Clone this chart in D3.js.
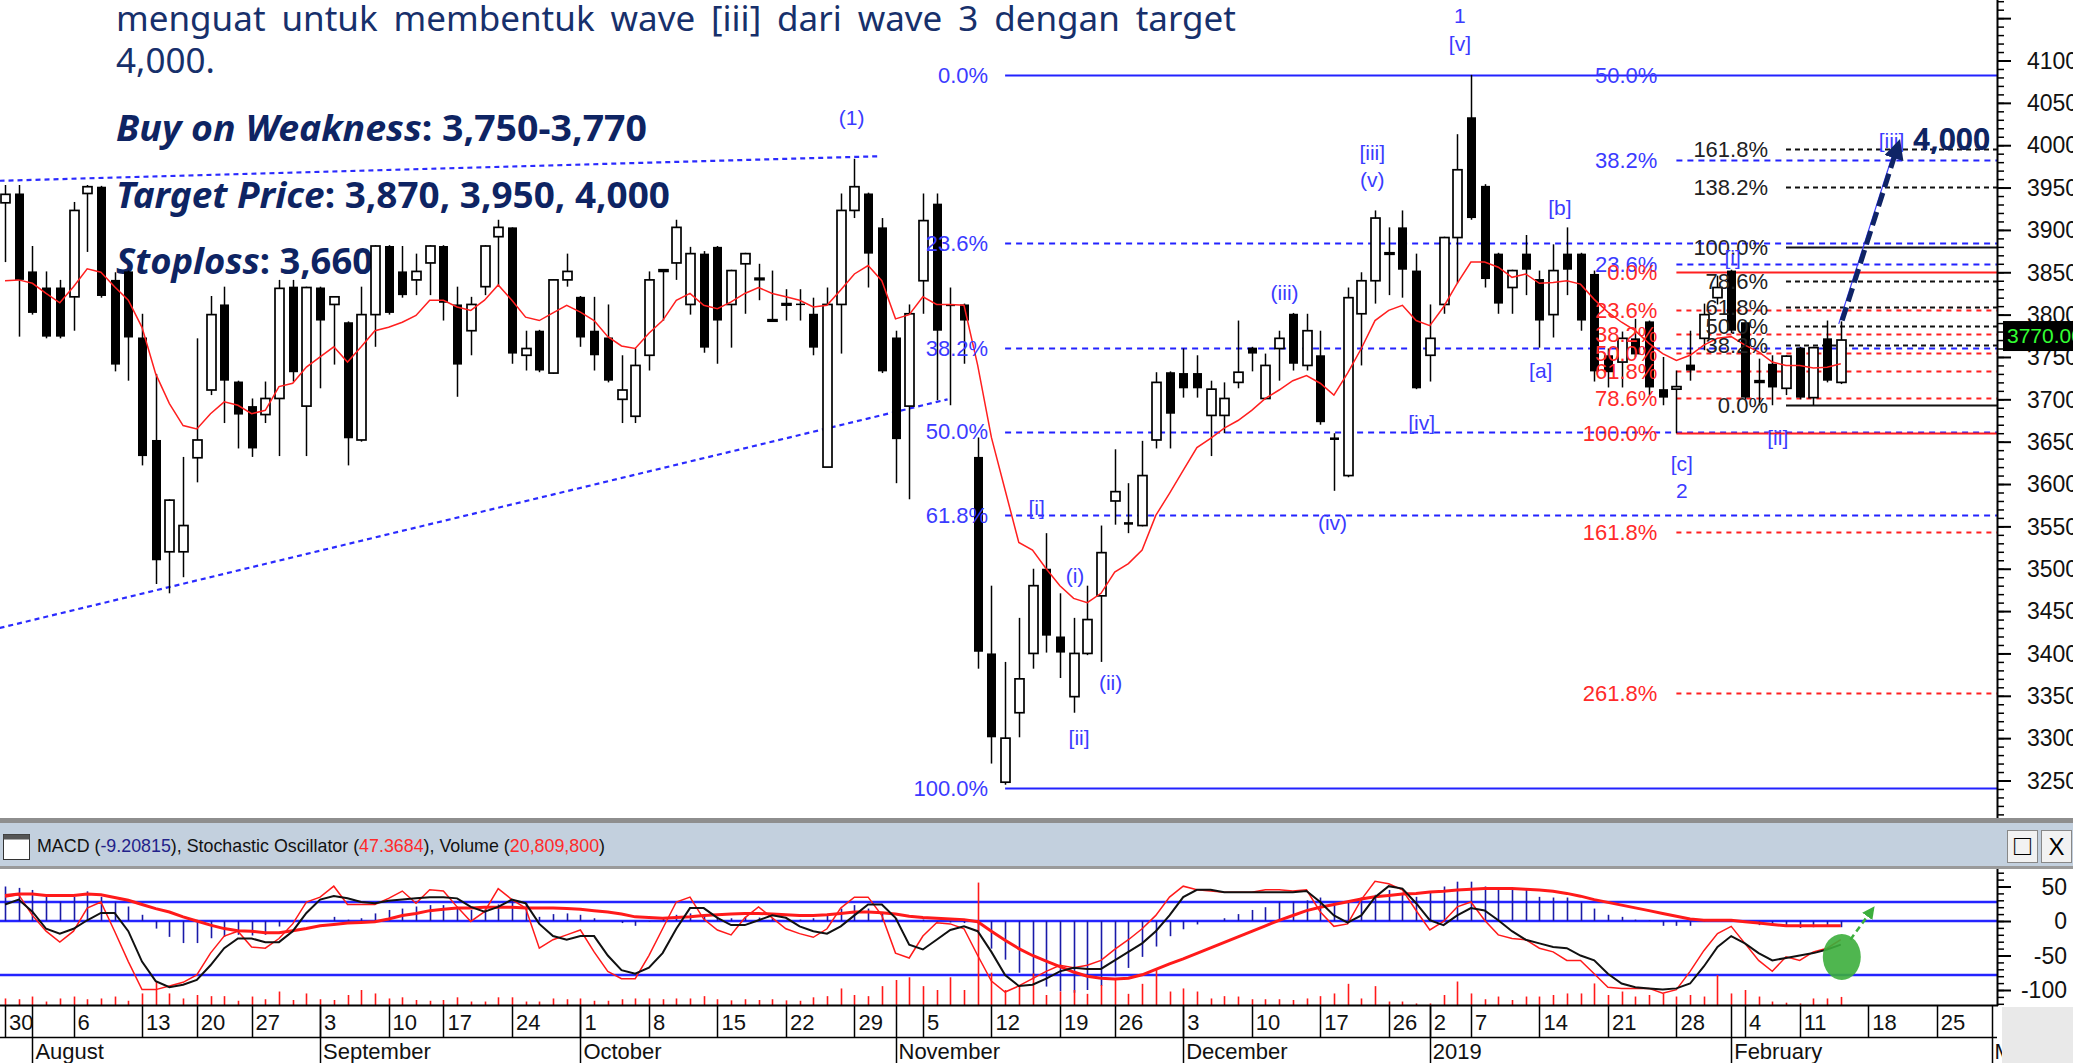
<!DOCTYPE html>
<html>
<head>
<meta charset="utf-8">
<script src="https://cdn.jsdelivr.net/npm/d3@7"></script>
<style>
  body { margin: 0; background: #fff; }
  svg { display: block; }
  .nar { font-family: "Liberation Sans Narrow", "Arial Narrow", "Liberation Sans", Arial, sans-serif; }
</style>
</head>
<body>
<svg id="chart" width="2073" height="1063"></svg>
<script>
// ---- calendar (IDX trading days) ----
const firstDay = "2018-07-30", lastDay = "2019-03-01";
const holidays = ["2018-08-17","2018-08-22","2018-09-11","2018-11-20","2018-12-24",
                  "2018-12-25","2018-12-31","2019-01-01","2019-02-05"];

// ---- daily candles, Jul 30 2018 .. Feb 14 2019 ----
const openP = [3932,3943,3851,3832,3832,3821,3943,3951,3841,3851, 3773,3652,3520,3520,3631,3711,3812,3721,3692,3682,
  3701,3833,3692,3832,3812,3791,3652,3800,3881,3851, 3841,3861,3881,3812,3781,3833,3892,3903,3752,3781,
  3731,3841,3821,3781,3773,3700,3680,3752,3851,3861, 3812,3872,3880,3812,3860,3842,3793,3812,3813,3801,
  3620,3812,3923,3943,3903,3773,3692,3840,3931,3812, 3812,3632,3400,3248,3330,3400,3500,3420,3349,3400,
  3468,3580,3555,3551,3652,3732,3731,3731,3681,3681, 3720,3761,3701,3760,3801,3740,3752,3655,3610,3801,
  3840,3872,3903,3852,3752,3812,3891,4033,3952,3872, 3832,3872,3842,3800,3872,3872,3848,3752,3744,3772,
  3792,3712,3712,3741,3772,3820,3852,3791,3720,3742, 3713,3761,3702,3772,3720];
const highP = [3953,3953,3881,3851,3841,3933,3953,3952,3850,3852, 3801,3730,3582,3632,3772,3822,3833,3722,3701,3721,
  3841,3841,3833,3833,3822,3792,3833,3882,3882,3881, 3872,3882,3882,3833,3821,3882,3912,3903,3781,3782,
  3842,3872,3822,3821,3812,3752,3760,3851,3853,3912, 3880,3875,3881,3853,3873,3860,3852,3830,3830,3820,
  3832,3943,3984,3944,3914,3781,3812,3943,3943,3832, 3813,3655,3480,3390,3442,3500,3542,3471,3442,3480,
  3551,3641,3601,3651,3732,3733,3760,3752,3722,3720, 3793,3762,3754,3781,3802,3801,3781,3660,3832,3850,
  3923,3903,3923,3872,3812,3892,4013,4083,3954,3873, 3853,3894,3852,3883,3903,3873,3852,3760,3780,3795,
  3793,3750,3734,3781,3813,3846,3853,3793,3748,3752, 3752,3762,3762,3793,3792];
const lowP = [3862,3774,3800,3772,3772,3781,3874,3820,3733,3722, 3622,3482,3471,3490,3602,3705,3672,3642,3632,3672,
  3633,3721,3633,3713,3741,3622,3650,3762,3800,3820, 3823,3823,3793,3703,3752,3823,3833,3742,3734,3732,
  3730,3833,3762,3734,3720,3672,3672,3734,3793,3841, 3800,3755,3742,3761,3801,3817,3793,3793,3793,3752,
  3620,3754,3914,3832,3731,3601,3582,3801,3699,3693, 3742,3382,3270,3245,3301,3382,3401,3371,3330,3398,
  3390,3552,3542,3550,3642,3642,3702,3702,3633,3660, 3713,3733,3700,3722,3734,3734,3670,3592,3608,3740,
  3813,3823,3820,3712,3721,3801,3837,3912,3832,3801, 3801,3823,3761,3773,3823,3781,3721,3714,3714,3750,
  3705,3693,3660,3722,3758,3812,3778,3700,3693,3693, 3705,3700,3693,3720,3718];
const closeP = [3942,3841,3802,3774,3774,3923,3951,3822,3741,3773, 3633,3510,3581,3551,3652,3800,3722,3682,3642,3701,
  3831,3732,3832,3793,3821,3654,3800,3881,3802,3823, 3851,3881,3814,3741,3812,3881,3903,3754,3760,3734,
  3841,3851,3773,3752,3722,3711,3740,3841,3853,3903, 3872,3761,3793,3852,3872,3843,3794,3813,3812,3761,
  3812,3923,3951,3872,3733,3653,3801,3911,3781,3810, 3793,3402,3301,3300,3370,3480,3421,3401,3400,3440,
  3519,3591,3552,3610,3720,3683,3713,3713,3712,3701, 3732,3754,3740,3772,3742,3781,3673,3652,3820,3840,
  3914,3873,3853,3713,3772,3891,3971,3914,3842,3813, 3852,3853,3793,3852,3853,3793,3733,3732,3772,3753,
  3714,3702,3715,3734,3800,3832,3781,3702,3722,3714, 3751,3702,3761,3722,3770];
const movingAvg = [3840,3841,3837,3825,3814,3833,3854,3850,3833,3817, 3785,3730,3695,3669,3665,3683,3697,3693,3683,3687,
  3715,3719,3738,3750,3762,3744,3762,3781,3785,3791, 3799,3817,3817,3809,3805,3817,3835,3817,3797,3793,
  3802,3811,3803,3793,3774,3763,3760,3778,3793,3817, 3825,3811,3807,3815,3825,3832,3825,3821,3817,3809,
  3811,3829,3848,3858,3840,3795,3800,3821,3812,3812, 3811,3740,3655,3593,3531,3522,3500,3480,3465,3460,
  3471,3496,3506,3522,3563,3589,3616,3643,3654,3666, 3675,3687,3701,3711,3722,3728,3719,3705,3731,3760,
  3793,3805,3811,3793,3787,3809,3837,3862,3862,3856, 3844,3848,3837,3838,3840,3836,3818,3803,3791,3781,
  3766,3754,3746,3752,3764,3772,3774,3764,3756,3744, 3740,3740,3737,3738,3742];

// ---- lower panel (volume in millions) ----
const volume = [17,15,22,9,17,22,15,17,22,11, 30,61,30,17,26,23,23,11,22,15, 35,13,30,15,13,26,39,30,17,20,
  13,11,13,20,9,9,20,20,9,9, 17,15,17,11,11,15,17,17,15,17, 17,23,15,12,15,13,15,12,11,20,
  23,43,26,23,49,65,72,49,39,72, 39,318,84,39,52,82,26,35,39,29, 52,65,29,55,93,35,43,35,17,23,
  22,15,15,15,13,17,23,30,55,17, 49,9,9,4,4,26,61,30,15,22, 13,22,22,26,30,30,56,26,35,22,
  26,30,22,26,22,78,30,39,22,9, 6,4,17,17,21];
const macd = [50,48,45,35,28,35,43,35,28,21, 9,-11,-23,-32,-32,-25,-23,-20,-21,-20, -8,0,-1,0,6,2,4,11,16,18,
  21,23,23,19,16,18,24,30,26,6, 10,11,9,4,0,-3,-7,-1,4,9, 11,9,6,4,6,5,4,0,2,4,
  9,18,23,18,11,4,0,2,-1,-2, -3,-15,-40,-56,-75,-85,-95,-102,-104,-100, -94,-80,-68,-52,-37,-22,-12,-5,0,4,
  10,16,20,28,28,30,34,26,27,34, 38,45,41,35,43,50,57,57,50,47, 45,45,35,34,34,28,18,9,6,2,
  1,-7,-7,-7,-1,1,1,-1,-6,-7, -8,-10,-9,-8,-9];
const macdSignal = [37,39,39,37,37,37,39,38,34,30, 24,18,13,6,0,-6,-11,-14,-15,-17, -17,-14,-11,-7,-5,-3,-2,-1,3,8,
  11,15,17,19,19,20,20,20,19,19, 19,18,17,15,13,10,6,5,4,5, 6,8,9,10,11,11,10,9,8,8,
  9,11,13,13,12,10,7,5,4,3, 2,-1,-15,-28,-40,-50,-58,-66,-74,-80, -83,-84,-83,-78,-70,-62,-55,-47,-39,-31,
  -23,-15,-7,1,8,15,20,24,28,32, 35,37,39,40,42,43,45,46,47,47, 47,46,45,43,40,36,31,27,23,19,
  15,11,7,3,1,1,1,-1,-3,-5, -7,-7,-7,-7,-7];
const stochK = [84,86,69,56,47,56,75,80,56,31, 8,8,11,14,20,38,52,56,43,42, 50,62,80,84,93,78,78,78,83,89,
  79,90,89,76,64,72,91,82,75,42, 49,53,57,39,23,17,17,36,58,80, 84,66,57,53,67,76,67,58,54,51,
  58,75,84,84,69,38,34,52,63,62, 58,36,15,6,11,17,23,28,26,28, 32,41,49,58,69,84,93,90,89,88,
  88,88,90,90,89,90,72,60,62,82, 97,95,90,73,57,64,76,80,65,53, 50,49,42,39,32,32,21,10,9,9,
  9,5,8,23,40,54,60,46,32,23, 35,32,39,42,49];
const stochD = [78,82,72,58,54,58,65,71,71,56, 31,15,10,12,16,28,42,50,50,47, 47,56,71,82,85,83,80,79,81,82,
  83,84,84,83,76,72,76,82,79,62, 52,49,52,52,36,24,21,26,38,58, 75,75,67,61,61,65,69,67,60,56,
  54,60,69,78,78,67,45,41,49,57, 60,56,39,20,11,12,17,23,26,25, 25,32,39,46,56,69,84,90,90,88,
  88,88,88,88,88,89,80,69,63,69, 84,93,91,79,65,61,69,75,73,65, 56,49,46,43,42,36,32,21,13,10,
  9,8,9,13,27,43,52,46,38,32, 34,36,38,41,45];
const headerValues = ["-9.20815", "47.3684", "20,809,800"];

// ---- axes ----
const priceTicks = [3250,3300,3350,3400,3450,3500,3550,3600,3650,3700,3750,3800,3850,3900,3950,4000,4050,4100];
const lowerTicks = [50, 0, -50, -100];

// ---- fibonacci levels: [label, price] ----
const fibBlueLeft = [["0.0%",4083],["23.6%",3884],["38.2%",3761],["50.0%",3662],["61.8%",3563],["100.0%",3241]];
const fibBlueRight = [["50.0%",4083],["38.2%",3983],["23.6%",3860]];
const fibRed = [["0.0%",3850],["23.6%",3805],["38.2%",3777],["50.0%",3755],["61.8%",3733],["78.6%",3701],
                ["100.0%",3660],["161.8%",3543],["261.8%",3353]];
const fibBlack = [["161.8%",3996],["138.2%",3951],["100.0%",3880],["78.6%",3840],["61.8%",3809],
                  ["50.0%",3787],["38.2%",3764],["0.0%",3693]];

// ---- elliott wave labels: [text, day index, price] ----
const waveLabels = [["1",106.2,4153],["[v]",106.2,4120],["(1)",61.8,4033],["[iii]",99.8,3992],["(v)",99.8,3959],
  ["(iii)",93.4,3826],["[b]",113.5,3927],["[a]",112.1,3734],["[iv]",103.4,3673],["(iv)",96.9,3555],
  ["[c]",122.4,3624],["2",122.4,3593],["[ii]",129.4,3655],["[i]",126.1,3868],["[iii]",137.7,4006],
  ["[i]",75.3,3572],["(i)",78.1,3492],["(ii)",80.7,3366],["[ii]",78.4,3301]];

const trendUpper = [[-0.4,3958],[63.9,3987]];
const trendLower = [[-0.4,3430],[68.8,3700]];
const targetArrow = [[134.1,3793],[138.1,3996]];

const noteLine1 = "menguat untuk membentuk wave [iii] dari wave 3 dengan target";
const noteLine2 = "4,000.";
const tradeNotes = [["Buy on Weakness", ": 3,750-3,770"], ["Target Price", ": 3,870, 3,950, 4,000"], ["Stoploss", ": 3,660"]];

// ================= drawing =================
const svg = d3.select("#chart");
const axisX = 1997;

const fmtDay = d3.timeFormat("%Y-%m-%d");
const tradingDays = d3.timeDay.range(new Date(firstDay + "T00:00"), d3.timeDay.offset(new Date(lastDay + "T00:00"), 1))
  .filter(d => d.getDay() % 6 !== 0 && !holidays.includes(fmtDay(d)));

const x = d3.scaleLinear().domain([0, tradingDays.length - 1]).range([5, 1991.5]);
const yMain = d3.scaleLinear().domain([3250, 4100]).range([780.5, 60.5]);
const yMacd = d3.scaleLinear().domain([0, 50]).range([921, 886.5]);
const yStoch = d3.scaleLinear().domain([20, 80]).range([975, 902]);
const yVol = d3.scaleLinear().domain([0, 100]).range([1005, 966.5]);

const px = v => Math.round(v) + 0.5;

// ---- top notes ----
const notes = svg.append("g").attr("font-family", "'Noto Sans', 'Open Sans', sans-serif");
const wordsG = notes.append("g").attr("fill", "#17306b").attr("font-size", 35);
const words = noteLine1.split(" ");
const wordNodes = words.map(w => wordsG.append("text").attr("y", 31).text(w));
const widths = wordNodes.map(n => n.node().getComputedTextLength());
const gap = (1236 - 116 - d3.sum(widths)) / (words.length - 1);
let cx = 116;
wordNodes.forEach((n, k) => { n.attr("x", cx); cx += widths[k] + gap; });
wordsG.append("text").attr("x", 116).attr("y", 73).text(noteLine2);

const noteWidths = [531, 554, 257];
tradeNotes.forEach((t, k) => {
  const tx = notes.append("text")
    .attr("x", 116).attr("y", 141 + k * 66.5)
    .attr("font-size", 35).attr("font-weight", 700).attr("fill", "#0e2463")
    .attr("textLength", noteWidths[k]).attr("lengthAdjust", "spacingAndGlyphs");
  tx.append("tspan").attr("font-style", "italic").text(t[0]);
  tx.append("tspan").text(t[1]);
});

// ---- main panel ----
const main = svg.append("g");

// trend lines
const lineIdx = d3.line().x(d => x(d[0])).y(d => yMain(d[1]));
[trendUpper, trendLower].forEach(t => {
  main.append("path").attr("d", lineIdx(t)).attr("fill", "none")
    .attr("stroke", "#2b2bff").attr("stroke-width", 2.2).attr("stroke-dasharray", "5,4");
});

// fib lines
function fibSet(levels, startIdx, color, dash, solid) {
  levels.forEach(([lab, v]) => {
    main.append("line")
      .attr("x1", x(startIdx)).attr("x2", axisX)
      .attr("y1", px(yMain(v))).attr("y2", px(yMain(v)))
      .attr("stroke", color).attr("stroke-width", 2)
      .attr("stroke-dasharray", solid.includes(lab) ? null : dash);
  });
}
fibSet(fibBlueLeft, 73, "#2323ff", "6,5", ["0.0%", "100.0%"]);
fibSet(fibBlueRight.slice(1), 122, "#2323ff", "6,5", []);
fibSet(fibRed, 122, "#ff2020", "5,5", ["0.0%", "100.0%"]);
fibSet(fibBlack, 130, "#111", "5,4", ["0.0%", "100.0%"]);

// candles
const candles = closeP.map((c, i) => ({ i, o: openP[i], h: highP[i], l: lowP[i], c }));
const cg = main.append("g");
cg.selectAll("line").data(candles).join("line")
  .attr("x1", d => px(x(d.i))).attr("x2", d => px(x(d.i)))
  .attr("y1", d => yMain(d.h)).attr("y2", d => yMain(d.l))
  .attr("stroke", "#000").attr("stroke-width", 1.5);
cg.selectAll("rect").data(candles).join("rect")
  .attr("x", d => Math.round(x(d.i)) - 4)
  .attr("width", 9)
  .attr("y", d => yMain(Math.max(d.o, d.c)))
  .attr("height", d => Math.max(1.5, Math.abs(yMain(d.o) - yMain(d.c))))
  .attr("fill", d => d.c >= d.o ? "#fff" : "#000")
  .attr("stroke", "#000")
  .attr("stroke-width", d => d.c >= d.o ? 1.7 : 0);

// moving average
main.append("path")
  .attr("d", d3.line().x((d, i) => x(i)).y(d => yMain(d))(movingAvg))
  .attr("fill", "none").attr("stroke", "#ff1f1f").attr("stroke-width", 1.5);

// fib labels
function fibLabels(levels, xr, color) {
  main.append("g").attr("class", "nar").attr("font-size", 22).attr("fill", color).attr("text-anchor", "end")
    .selectAll("text").data(levels).join("text")
    .attr("x", xr).attr("y", d => yMain(d[1])).attr("dy", "0.36em").text(d => d[0]);
}
fibLabels(fibBlueLeft, x(73) - 17, "#3b3bff");
fibLabels(fibBlueRight, x(122) - 19, "#3b3bff");
fibLabels(fibRed, x(122) - 19, "#ff2a2a");
fibLabels(fibBlack, x(130) - 18, "#222");

// wave labels
main.append("g").attr("class", "nar").attr("font-size", 21).attr("fill", "#3b3bff").attr("text-anchor", "middle")
  .selectAll("text").data(waveLabels).join("text")
  .attr("x", d => x(d[1])).attr("y", d => yMain(d[2])).attr("dy", "0.36em").text(d => d[0]);

// target arrow
const defs = svg.append("defs");
defs.append("marker").attr("id", "head").attr("viewBox", "0 0 10 10").attr("refX", 5).attr("refY", 5)
  .attr("markerWidth", 4).attr("markerHeight", 4).attr("orient", "auto")
  .append("path").attr("d", "M0,0 L10,5 L0,10 z").attr("fill", "#0f2466");
defs.append("marker").attr("id", "headG").attr("viewBox", "0 0 10 10").attr("refX", 5).attr("refY", 5)
  .attr("markerWidth", 5).attr("markerHeight", 5).attr("orient", "auto")
  .append("path").attr("d", "M0,0 L10,5 L0,10 z").attr("fill", "#3cae3c");
main.append("path").attr("d", lineIdx(targetArrow.map(d => [d[0] - 0.25, d[1] - 4])))
  .attr("stroke", "#3b3bff").attr("stroke-width", 1.2).attr("fill", "none");
main.append("path").attr("d", lineIdx(targetArrow))
  .attr("stroke", "#0f2466").attr("stroke-width", 5).attr("fill", "none")
  .attr("stroke-dasharray", "14,6").attr("marker-end", "url(#head)");
main.append("text").attr("x", 1913).attr("y", yMain(4000) + 5)
  .attr("font-family", "'Noto Sans', sans-serif").attr("font-size", 30).attr("font-weight", 700)
  .attr("fill", "#0e2463").text("4,000");

// right price axis
const axG = svg.append("g").attr("transform", `translate(${axisX},0)`);
axG.append("line").attr("x1", 0.5).attr("x2", 0.5).attr("y1", 0).attr("y2", 818).attr("stroke", "#000").attr("stroke-width", 2);
axG.append("g").call(d3.axisRight(yMain).tickValues(d3.range(3190, 4171, 10)).tickSize(7).tickFormat(""))
  .call(g => g.select(".domain").remove())
  .call(g => g.selectAll("line").attr("stroke-width", 1.5));
axG.append("g")
  .call(d3.axisRight(yMain).tickValues(d3.range(3200, 4151, 50)).tickSize(14).tickFormat(""))
  .call(g => g.select(".domain").remove())
  .call(g => g.selectAll("line").attr("stroke-width", 2));
axG.append("g").attr("class", "nar").attr("font-size", 23).attr("fill", "#111")
  .selectAll("text").data(priceTicks).join("text")
  .attr("x", 30).attr("y", d => yMain(d)).attr("dy", "0.36em").text(d => d);

// last price box
const lastY = yMain(closeP[closeP.length - 1]);
axG.append("rect").attr("x", 6).attr("y", lastY - 19).attr("width", 76).attr("height", 30).attr("fill", "#000");
axG.append("text").attr("class", "nar").attr("x", 10).attr("y", lastY + 3).attr("font-size", 21)
  .attr("fill", "#33ff33").text(closeP[closeP.length - 1].toFixed(3));

// ---- panel separator & header ----
svg.append("rect").attr("x", 0).attr("y", 818).attr("width", 2073).attr("height", 5).attr("fill", "#8e8e8e");
svg.append("rect").attr("x", 0).attr("y", 823).attr("width", 2073).attr("height", 43).attr("fill", "#c3d0de");
svg.append("rect").attr("x", 0).attr("y", 866).attr("width", 2073).attr("height", 3).attr("fill", "#9a9a9a");
svg.append("rect").attr("x", 3.5).attr("y", 834.5).attr("width", 26).attr("height", 25).attr("fill", "#fff").attr("stroke", "#333");
svg.append("rect").attr("x", 3.5).attr("y", 834.5).attr("width", 26).attr("height", 5).attr("fill", "#555");
const hdr = svg.append("text").attr("class", "nar").attr("x", 37).attr("y", 852).attr("font-size", 19)
  .attr("fill", "#111").attr("textLength", 568).attr("lengthAdjust", "spacingAndGlyphs");
[["MACD (", "#111"], [headerValues[0], "#22228a"], ["), Stochastic Oscillator (", "#111"],
 [headerValues[1], "#ff2a2a"], ["), Volume (", "#111"], [headerValues[2], "#ff2a2a"], [")", "#111"]]
  .forEach(([t, c]) => hdr.append("tspan").attr("fill", c).text(t));
[[2007, "\u25A1"], [2041, "X"]].forEach(([bx, t]) => {
  svg.append("rect").attr("x", bx + 0.5).attr("y", 830.5).attr("width", 30).attr("height", 32)
    .attr("fill", "#f2f2f2").attr("stroke", "#888");
  svg.append("text").attr("x", bx + 15.5).attr("y", 855).attr("text-anchor", "middle")
    .attr("font-family", "'Liberation Sans', sans-serif").attr("font-size", t === "X" ? 24 : 28).attr("fill", "#000").text(t);
});

// ---- lower panel ----
const low = svg.append("g");
[yStoch(80), yMacd(0), yStoch(20)].forEach(yy => {
  low.append("line").attr("x1", 0).attr("x2", axisX).attr("y1", yy).attr("y2", yy)
    .attr("stroke", "#2424ff").attr("stroke-width", 2.5);
});
low.append("g").selectAll("line").data(macd).join("line")
  .attr("x1", (d, i) => px(x(i))).attr("x2", (d, i) => px(x(i)))
  .attr("y1", yMacd(0)).attr("y2", d => yMacd(d))
  .attr("stroke", "#1a1aa8").attr("stroke-width", 1.6);
low.append("g").selectAll("line").data(volume).join("line")
  .attr("x1", (d, i) => px(x(i))).attr("x2", (d, i) => px(x(i)))
  .attr("y1", yVol(0)).attr("y2", d => yVol(d))
  .attr("stroke", "#ff1a1a").attr("stroke-width", 1.6);
low.append("path").attr("d", d3.line().x((d, i) => x(i)).y(d => yMacd(d))(macdSignal))
  .attr("fill", "none").attr("stroke", "#ff1a1a").attr("stroke-width", 3);
low.append("path").attr("d", d3.line().x((d, i) => x(i)).y(d => yStoch(d))(stochK))
  .attr("fill", "none").attr("stroke", "#ff1a1a").attr("stroke-width", 1.5);
low.append("path").attr("d", d3.line().x((d, i) => x(i)).y(d => yStoch(d))(stochD))
  .attr("fill", "none").attr("stroke", "#111").attr("stroke-width", 2);

// green marker
const lastI = closeP.length - 1;
low.append("ellipse").attr("cx", x(lastI) + 1).attr("cy", yMacd(-52)).attr("rx", 19).attr("ry", 23)
  .attr("fill", "#3cae3c").attr("opacity", 0.9);
low.append("path").attr("d", d3.line().x(d => x(d[0])).y(d => yMacd(d[1]))([[lastI + 0.7, -27], [lastI + 2.2, 14]]))
  .attr("stroke", "#3cae3c").attr("stroke-width", 2.5).attr("stroke-dasharray", "6,4").attr("fill", "none")
  .attr("marker-end", "url(#headG)");

// lower axis
const lax = svg.append("g").attr("transform", `translate(${axisX},0)`);
lax.append("line").attr("x1", 0.5).attr("x2", 0.5).attr("y1", 869).attr("y2", 1006).attr("stroke", "#000").attr("stroke-width", 2);
lax.append("g").call(d3.axisRight(yMacd).tickValues(d3.range(-120, 71, 10)).tickSize(7).tickFormat(""))
  .call(g => g.select(".domain").remove()).call(g => g.selectAll("line").attr("stroke-width", 1.5));
lax.append("g").call(d3.axisRight(yMacd).tickValues(lowerTicks).tickSize(14).tickFormat(""))
  .call(g => g.select(".domain").remove()).call(g => g.selectAll("line").attr("stroke-width", 2));
lax.append("g").attr("class", "nar").attr("font-size", 23).attr("fill", "#111").attr("text-anchor", "end")
  .selectAll("text").data(lowerTicks).join("text")
  .attr("x", 70).attr("y", d => yMacd(d)).attr("dy", "0.36em").text(d => d);

// ---- date axis ----
const dax = svg.append("g");
dax.append("line").attr("x1", 0).attr("x2", axisX + 1).attr("y1", 1005.5).attr("y2", 1005.5).attr("stroke", "#000").attr("stroke-width", 2);
dax.append("line").attr("x1", 0).attr("x2", axisX).attr("y1", 1037.5).attr("y2", 1037.5).attr("stroke", "#000").attr("stroke-width", 1.5);
const weekStarts = tradingDays.map((d, i) => i).filter(i => i === 0 || +d3.timeMonday.floor(tradingDays[i]) !== +d3.timeMonday.floor(tradingDays[i - 1]));
const monthStarts = tradingDays.map((d, i) => i).filter(i => i > 0 && tradingDays[i].getMonth() !== tradingDays[i - 1].getMonth());
dax.selectAll("line.wk").data(weekStarts).join("line").attr("class", "wk")
  .attr("x1", i => px(x(i))).attr("x2", i => px(x(i))).attr("y1", 1005).attr("y2", 1037)
  .attr("stroke", "#000").attr("stroke-width", 1.5);
dax.selectAll("line.mo").data(monthStarts).join("line").attr("class", "mo")
  .attr("x1", i => px(x(i))).attr("x2", i => px(x(i))).attr("y1", 1005).attr("y2", 1063)
  .attr("stroke", "#000").attr("stroke-width", 1.5);
dax.append("g").attr("class", "nar").attr("font-size", 22).attr("fill", "#111")
  .selectAll("text").data(weekStarts).join("text")
  .attr("x", i => x(i) + 4).attr("y", 1030).text(i => tradingDays[i].getDate());
dax.append("g").attr("class", "nar").attr("font-size", 22).attr("fill", "#111")
  .selectAll("text").data(monthStarts).join("text")
  .attr("x", i => x(i) + 3).attr("y", 1059)
  .text(i => tradingDays[i].getMonth() === 0 ? tradingDays[i].getFullYear() : d3.timeFormat("%B")(tradingDays[i]));
svg.append("rect").attr("x", axisX + 5).attr("y", 1007).attr("width", 80).attr("height", 60).attr("fill", "#e9e9e9");
</script>
</body>
</html>
